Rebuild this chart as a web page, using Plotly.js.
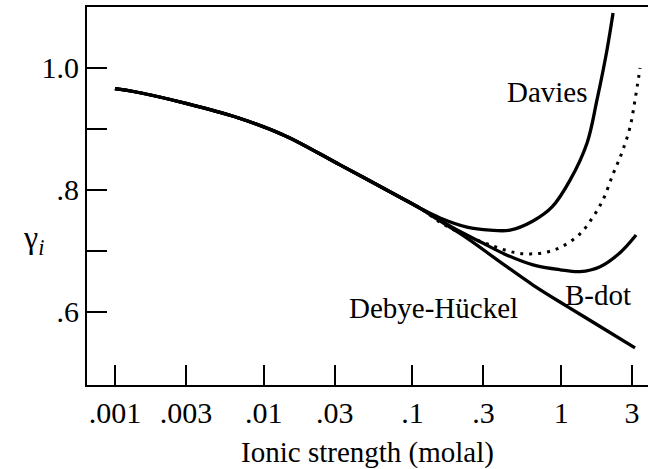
<!DOCTYPE html>
<html>
<head>
<meta charset="utf-8">
<script src="https://cdn.plot.ly/plotly-3.0.1.min.js"></script>
<style>html,body{margin:0;padding:0;background:#fff;}#chart{width:648px;height:469px;}</style>
</head>
<body>
<div id="chart"></div>
<script>
// Ionic strength (molal) and activity coefficient readings
const commonI = [0.001, 0.00136, 0.003, 0.0064, 0.0139, 0.0326, 0.0826, 0.1125];
const commonG = [0.966, 0.961, 0.942, 0.920, 0.889, 0.841, 0.788, 0.770];

const daviesI = [0.1535, 0.2328, 0.3326, 0.453, 0.647, 0.869, 1.148, 1.494, 1.743, 2.035, 2.234];
const daviesG = [0.754, 0.739, 0.734, 0.734, 0.749, 0.772, 0.816, 0.877, 0.948, 1.030, 1.090];

const dottedI = [0.1607, 0.2328, 0.3483, 0.4898, 0.618, 0.803, 1.030, 1.340, 1.640, 1.914, 2.234, 2.569, 2.905, 3.140, 3.394];
const dottedG = [0.744, 0.7246, 0.708, 0.697, 0.695, 0.698, 0.708, 0.728, 0.756, 0.784, 0.826, 0.862, 0.903, 0.948, 1.000];

const bdotI = [0.1462, 0.1875, 0.2853, 0.4325, 0.647, 0.984, 1.340, 1.827, 2.489, 3.19];
const bdotG = [0.754, 0.738, 0.715, 0.693, 0.677, 0.669, 0.666, 0.674, 0.697, 0.726];

const dhI = [0.1377, 0.2328, 0.388, 0.647, 1.096, 1.827, 3.14];
const dhG = [0.756, 0.721, 0.682, 0.644, 0.609, 0.576, 0.541];

const tickVals = [0.001, 0.003, 0.01, 0.03, 0.1, 0.3, 1, 3];
const tickText = ['.001', '.003', '.01', '.03', '.1', '.3', '1', '3'];
const yTickVals = [0.6, 0.8, 1.0];
const yTickText = ['.6', '.8', '1.0'];
const yMinorVals = [0.7, 0.9];

const serif = '"Liberation Serif", "Times New Roman", serif';
function mk(I, G, dash, w) {
  return {
    x: commonI.concat(I), y: commonG.concat(G), type: 'scatter', mode: 'lines',
    line: {color: '#000', width: w, shape: 'spline', smoothing: 1, dash: dash},
    hoverinfo: 'skip', showlegend: false
  };
}
const traces = [
  mk(dottedI, dottedG, '3px,6px', 3),
  mk(dhI, dhG, 'solid', 3.3),
  mk(bdotI, bdotG, 'solid', 3.3),
  mk(daviesI, daviesG, 'solid', 3.3)
];

const layout = {
  width: 648, height: 469,
  margin: {l: 87, r: 0, t: 7, b: 84},
  paper_bgcolor: '#fff', plot_bgcolor: '#fff',
  font: {family: serif, size: 29, color: '#000'},
  xaxis: {
    type: 'log', range: [-3.188, 0.584],
    tickvals: tickVals, ticktext: tickText,
    ticks: 'inside', ticklen: 20, tickwidth: 2, tickcolor: '#000',
    showline: true, linewidth: 2, linecolor: '#000', mirror: true,
    showgrid: false, zeroline: false,
    tickfont: {family: serif, size: 30, color: '#000'},
    title: {text: 'Ionic strength (molal)', font: {family: serif, size: 29, color: '#000'}, standoff: 16}
  },
  yaxis: {
    range: [0.480, 1.1],
    tickvals: yTickVals, ticktext: yTickText,
    ticks: 'inside', ticklen: 20, tickwidth: 2, tickcolor: '#000',
    minor: {tickmode: 'array', tickvals: yMinorVals, ticks: 'inside', ticklen: 20, tickwidth: 2, tickcolor: '#000', showgrid: false},
    showline: true, linewidth: 2, linecolor: '#000',
    showgrid: false, zeroline: false,
    tickfont: {family: serif, size: 30, color: '#000'}
  },
  annotations: [
    {x: -0.095, y: 0.961, xref: 'x', yref: 'y', text: 'Davies', showarrow: false, font: {family: serif, size: 29, color: '#000'}},
    {x: 0.248, y: 0.628, xref: 'x', yref: 'y', text: 'B-dot', showarrow: false, font: {family: serif, size: 29, color: '#000'}},
    {x: -0.855, y: 0.607, xref: 'x', yref: 'y', text: 'Debye-Hückel', showarrow: false, font: {family: serif, size: 29, color: '#000'}},
    {x: -0.118, y: 0.385, xref: 'paper', yref: 'paper', text: 'γ<sub><i>i</i></sub>', showarrow: false, font: {family: serif, size: 32, color: '#000'}}
  ]
};
Plotly.newPlot('chart', traces, layout, {displayModeBar: false, staticPlot: true});
</script>
</body>
</html>
